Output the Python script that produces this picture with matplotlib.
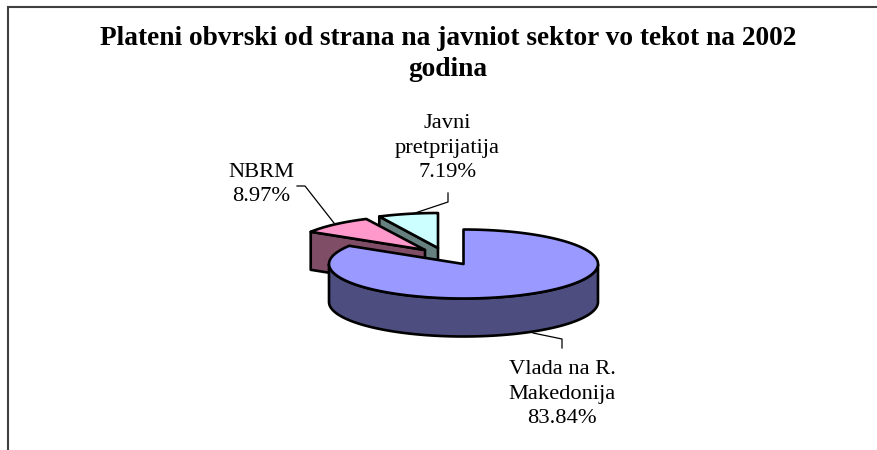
import numpy as np
import matplotlib
matplotlib.use("Agg")
import matplotlib.pyplot as plt
from matplotlib.patches import Polygon

title = "Plateni obvrski od strana na javniot sektor vo tekot na 2002\ngodina"
categories = ["Vlada na R.\nMakedonija", "NBRM", "Javni\npretprijatija"]
shares = [83.84, 8.97, 7.19]

top_colors = ["#9999FF", "#FF99CC", "#CCFFFF"]
side_colors = ["#4D4D80", "#804D66", "#668080"]
apex = [(463.5, 264), (425, 250), (438, 248)]
radius = [(134.5, 34.5), (134.5, 34.5), (134.5, 35)]
depth = 38
edge = "black"
lw = 1.9

label_xy = [(562, 394), (261, 184.5), (447.5, 148)]
leaders = [[(533, 333), (562, 339), (562, 348)],
           [(297, 186), (305, 186), (334, 223)],
           [(448, 193), (448, 202), (412, 214)]]

plt.rcParams["font.family"] = ["Liberation Serif", "DejaVu Serif"]
fig = plt.figure(figsize=(8.77, 4.5), dpi=100)
ax = fig.add_axes([0, 0, 1, 1])
ax.set_xlim(0, 877)
ax.set_ylim(450, 0)
ax.axis("off")

ax.plot([8, 8, 877], [450, 6.5, 6.5], color="#404040", lw=1.5, solid_capstyle="butt", solid_joinstyle="miter")

ax.text(448, 54, title, ha="center", va="center", fontsize=19.7, fontweight="bold",
        color="black", linespacing=1.32)

cum = np.cumsum([0] + shares)
angles = 2 * np.pi * cum / cum[-1]


def rim(i, n=200):
    th = np.linspace(angles[i], angles[i + 1], n)
    cx, cy = apex[i]
    rx, ry = radius[i]
    return np.column_stack([cx + rx * np.sin(th), cy - ry * np.cos(th)])


def poly(pts, fc, z):
    ax.add_patch(Polygon(pts, closed=True, fc=fc, ec=edge, lw=lw, joinstyle="round", zorder=z))


down = np.array([0, depth])
for i, z in [(2, 2), (1, 3), (0, 4)]:
    r = rim(i)
    c = np.array(apex[i], dtype=float)
    if i != 0:
        # cut face running from the outer start of the slice to its apex
        poly([r[0], c, c + down, r[0] + down], side_colors[i], z)
    else:
        # visible outer wall: the part of the rim on the viewer's side
        th = np.linspace(angles[0], angles[1], 200)
        mask = np.cos(th) < 0
        front = r[mask]
        poly(np.vstack([front, (front + down)[::-1]]), side_colors[i], z)
    poly(np.vstack([c[None, :], r]), top_colors[i], z + 0.5)

for pts in leaders:
    xs, ys = zip(*pts)
    ax.plot(xs, ys, color="black", lw=0.9, zorder=6)

for name, share, (x, y) in zip(categories, shares, label_xy):
    ax.text(x, y, f"{name}\n{share:.2f}%", ha="center", va="center", fontsize=16.2,
            color="black", linespacing=1.4, zorder=7)

fig.savefig("out.png", dpi=100, facecolor="white")
